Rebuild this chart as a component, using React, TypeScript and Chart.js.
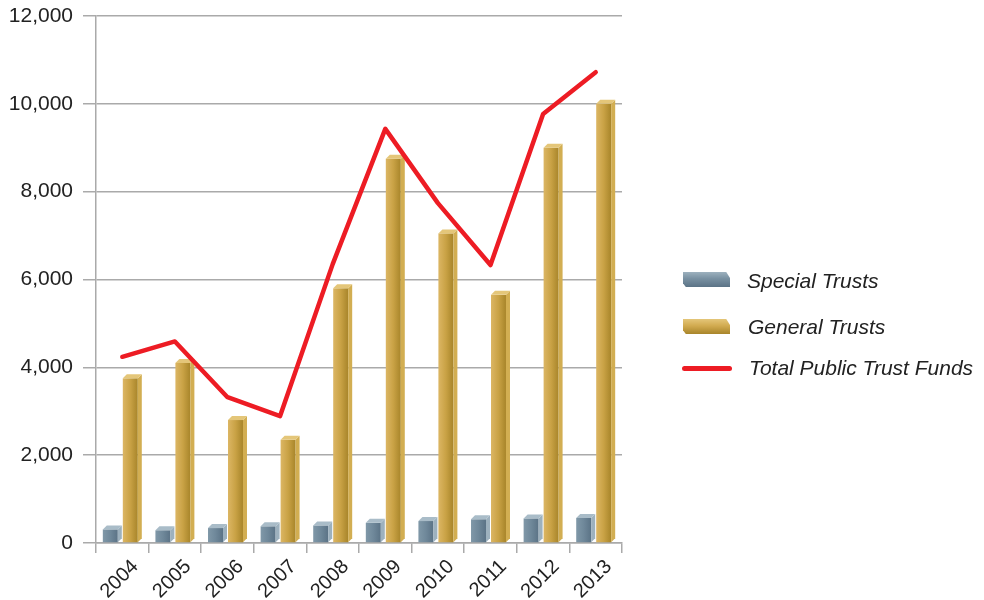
import React, { useEffect, useRef } from "react";
import { Chart, registerables } from "chart.js";

Chart.register(...registerables);

const years = ["2004", "2005", "2006", "2007", "2008", "2009", "2010", "2011", "2012", "2013"];
const specialTrusts = [310, 290, 340, 380, 400, 460, 500, 540, 560, 570];
const generalTrusts = [3750, 4100, 2800, 2350, 5800, 8750, 7050, 5650, 9000, 10000];
const totalFunds = [4240, 4590, 3320, 2890, 6350, 9430, 7740, 6330, 9770, 10720];
const yTicks = [0, 2000, 4000, 6000, 8000, 10000, 12000];

const FONT = "'Liberation Sans', Arial, Helvetica, sans-serif";

const palettes: Record<string, { l: string; m: string; r: string; side: string; cap: string }> = {
  special: { l: "#8098a8", m: "#6f889a", r: "#5b7386", side: "#9db1be", cap: "#a9bcc8" },
  general: { l: "#dcb664", m: "#c9a245", r: "#a8852a", side: "#d2ae52", cap: "#e4c679" },
};

const bar3d = {
  id: "bar3d",
  beforeDatasetDraw(chart: any, args: any) {
    const meta = args.meta;
    if (meta.type !== "bar") return;
    const ds = chart.data.datasets[args.index];
    const pal = palettes[ds.paletteKey];
    const ctx = chart.ctx;
    const d = 4;
    ctx.save();
    meta.data.forEach((el: any) => {
      const { x, y, base, width } = el.getProps(["x", "y", "base", "width"], true);
      const x0 = x - width / 2;
      const x1 = x + width / 2 - d;
      const g = ctx.createLinearGradient(x0, 0, x1, 0);
      g.addColorStop(0, pal.l);
      g.addColorStop(0.5, pal.m);
      g.addColorStop(1, pal.r);
      ctx.fillStyle = g;
      ctx.fillRect(x0, y, x1 - x0, base - y);
      ctx.fillStyle = pal.side;
      ctx.beginPath();
      ctx.moveTo(x1, y);
      ctx.lineTo(x1 + d, y - d);
      ctx.lineTo(x1 + d, base - d);
      ctx.lineTo(x1, base);
      ctx.closePath();
      ctx.fill();
      ctx.fillStyle = pal.cap;
      ctx.beginPath();
      ctx.moveTo(x0, y);
      ctx.lineTo(x0 + d, y - d);
      ctx.lineTo(x1 + d, y - d);
      ctx.lineTo(x1, y);
      ctx.closePath();
      ctx.fill();
    });
    ctx.restore();
    return false;
  },
};

export default function App() {
  const ref = useRef<HTMLCanvasElement>(null);

  useEffect(() => {
    document.body.style.margin = "0";
    const chart = new Chart(ref.current!, {
      type: "bar",
      data: {
        labels: years,
        datasets: [
          {
            type: "line",
            label: "Total Public Trust Funds",
            data: totalFunds,
            borderColor: "#ed1c24",
            backgroundColor: "#ed1c24",
            borderWidth: 4.5,
            pointRadius: 0,
            tension: 0,
            borderCapStyle: "round",
            borderJoinStyle: "round",
            order: 1,
          } as any,
          {
            label: "Special Trusts",
            data: specialTrusts,
            backgroundColor: "rgba(0,0,0,0)",
            paletteKey: "special",
            categoryPercentage: 0.76,
            barPercentage: 0.95,
            order: 2,
          } as any,
          {
            label: "General Trusts",
            data: generalTrusts,
            backgroundColor: "rgba(0,0,0,0)",
            paletteKey: "general",
            categoryPercentage: 0.76,
            barPercentage: 0.95,
            order: 2,
          } as any,
        ],
      },
      options: {
        animation: false,
        responsive: false,
        maintainAspectRatio: false,
        layout: { padding: { left: 0, top: 16, right: 984 - 622, bottom: 0 } },
        plugins: { legend: { display: false }, tooltip: { enabled: false } },
        scales: {
          x: {
            grid: {
              offset: true,
              drawOnChartArea: false,
              drawTicks: true,
              tickLength: 10,
              color: "#aaaaaa",
              lineWidth: 1.5,
            },
            border: { display: true, color: "#aaaaaa", width: 1.5 },
            ticks: {
              font: { family: FONT, size: 20 },
              color: "#222222",
              maxRotation: 45,
              minRotation: 45,
              padding: 2,
              labelOffset: 13,
            },
            afterFit(scale: any) {
              scale.height = 57;
              scale.paddingLeft = 0;
              scale.paddingRight = 0;
            },
          },
          y: {
            min: 0,
            max: 12000,
            afterBuildTicks(scale: any) {
              scale.ticks = yTicks.map((v) => ({ value: v }));
            },
            grid: {
              color: "#aaaaaa",
              lineWidth: 1.5,
              tickLength: 13,
            },
            border: { display: true, color: "#aaaaaa", width: 1.5 },
            ticks: {
              font: { family: FONT, size: 21 },
              color: "#222222",
              padding: 10,
              callback: (v: any) => Number(v).toLocaleString("en-US"),
            },
            afterFit(scale: any) {
              scale.width = 96;
              scale.paddingTop = 0;
              scale.paddingBottom = 0;
            },
          },
        },
      },
      plugins: [bar3d],
    });
    return () => chart.destroy();
  }, []);

  const textStyle: React.CSSProperties = {
    position: "absolute",
    fontFamily: FONT,
    fontStyle: "italic",
    fontSize: 21,
    color: "#222",
    whiteSpace: "nowrap",
    lineHeight: "24px",
  };

  return (
    <div style={{ position: "relative", width: 984, height: 600, background: "#fff" }}>
      <canvas ref={ref} width={984} height={600} style={{ position: "absolute", left: 0, top: 0 }} />
      <div
        style={{
          position: "absolute",
          left: 683,
          top: 272,
          width: 47,
          height: 15,
          background: "linear-gradient(to bottom, #9db1be 0%, #7890a1 45%, #5b7386 100%)",
          clipPath: "polygon(0 0, 92% 0, 100% 40%, 100% 100%, 6% 100%, 0 75%)",
        }}
      />
      <div style={{ ...textStyle, left: 747, top: 269 }}>Special Trusts</div>
      <div
        style={{
          position: "absolute",
          left: 683,
          top: 319,
          width: 47,
          height: 15,
          background: "linear-gradient(to bottom, #e4c679 0%, #d2ab50 45%, #a8852a 100%)",
          clipPath: "polygon(0 0, 92% 0, 100% 40%, 100% 100%, 6% 100%, 0 75%)",
        }}
      />
      <div style={{ ...textStyle, left: 748, top: 315 }}>General Trusts</div>
      <div
        style={{
          position: "absolute",
          left: 682,
          top: 366,
          width: 50,
          height: 5,
          borderRadius: 3,
          background: "#ed1c24",
        }}
      />
      <div style={{ ...textStyle, left: 749, top: 356 }}>Total Public Trust Funds</div>
    </div>
  );
}
